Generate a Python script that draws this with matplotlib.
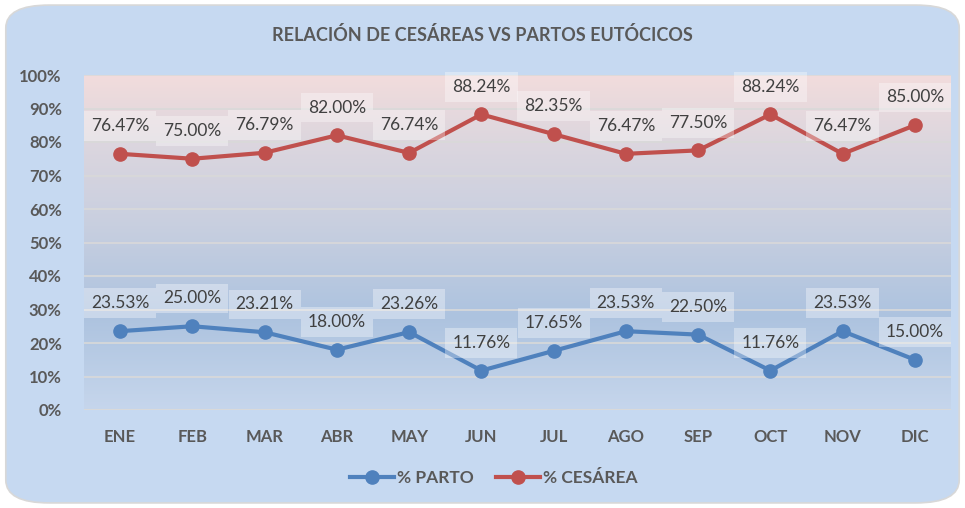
import numpy as np
import matplotlib.pyplot as plt
from matplotlib.patches import FancyBboxPatch
from matplotlib.colors import LinearSegmentedColormap

meses = ['ENE', 'FEB', 'MAR', 'ABR', 'MAY', 'JUN', 'JUL', 'AGO', 'SEP', 'OCT', 'NOV', 'DIC']
parto = [23.53, 25.00, 23.21, 18.00, 23.26, 11.76, 17.65, 23.53, 22.50, 11.76, 23.53, 15.00]
cesarea = [76.47, 75.00, 76.79, 82.00, 76.74, 88.24, 82.35, 76.47, 77.50, 88.24, 76.47, 85.00]
y_ticks = list(range(0, 101, 10))

gris = '#595959'
azul = '#4f81bd'
rojo = '#c0504d'
plt.rcParams['font.family'] = ['Lato', 'DejaVu Sans']

fig = plt.figure(figsize=(9.65, 5.08), dpi=100)
fondo = FancyBboxPatch((0.006, 0.01), 0.988, 0.98,
                       boxstyle='round,pad=0,rounding_size=0.045',
                       transform=fig.transFigure, facecolor='#c6d9f1',
                       edgecolor='#d8d8d8', linewidth=1.2, zorder=-10)
fig.patches.append(fondo)

ax = fig.add_axes([84 / 965, 98 / 508, 867 / 965, 335 / 508])
ax.set_facecolor('none')

# degradado del area de trazado
cmap = LinearSegmentedColormap.from_list(
    'fondo', [(0.0, '#c6d6ec'), (0.28, '#adc3df'), (0.55, '#c8cfe0'),
              (0.8, '#dcd6de'), (1.0, '#f2dcdc')])
grad = np.linspace(0, 1, 256).reshape(-1, 1)
ax.imshow(grad, cmap=cmap, aspect='auto', origin='lower',
          extent=[-0.5, 11.5, 0, 100], zorder=0)

x = np.arange(len(meses))
for v in y_ticks[1:]:
    ax.axhline(v, color='#d9d9d9', lw=1.2, zorder=1)
ax.axhline(0, color='#d9d9d9', lw=1.5, zorder=1)

ax.plot(x, parto, color=azul, lw=3, marker='o', ms=9.5, zorder=3, label='% PARTO')
ax.plot(x, cesarea, color=rojo, lw=3, marker='o', ms=9.5, zorder=3, label='% CESÁREA')

for serie in (parto, cesarea):
    for i, v in enumerate(serie):
        ax.annotate(f'{v:.2f}%', (x[i], v), xytext=(0, 20), textcoords='offset points',
                    ha='center', va='center', fontsize=12.5, color='#404040',
                    bbox=dict(boxstyle='square,pad=0.4', fc='white', ec='none', alpha=0.35),
                    zorder=4)

ax.set_xlim(-0.5, 11.5)
ax.set_ylim(0, 100)
ax.set_xticks(x)
ax.set_xticklabels(meses)
ax.set_yticks(y_ticks)
ax.set_yticklabels([f'{v}%' for v in y_ticks])
ax.tick_params(length=0, labelsize=12, labelcolor=gris)
ax.tick_params(axis='x', pad=14)
ax.tick_params(axis='y', pad=16)
for lbl in ax.get_xticklabels() + ax.get_yticklabels():
    lbl.set_fontweight('bold')
for s in ax.spines.values():
    s.set_visible(False)

fig.text(0.5, 1 - 35 / 508, 'RELACIÓN DE CESÁREAS VS PARTOS EUTÓCICOS', ha='center',
         va='center', fontsize=13, fontweight='bold', color=gris)

leg = fig.legend(loc='center', bbox_to_anchor=(0.512, 1 - 478 / 508), ncol=2, frameon=False,
                 fontsize=12.5, handlelength=2.5, columnspacing=1.3, handletextpad=0.2)
for t in leg.get_texts():
    t.set_color(gris)
    t.set_fontweight('bold')

fig.savefig('out.png', dpi=100, facecolor='white')
